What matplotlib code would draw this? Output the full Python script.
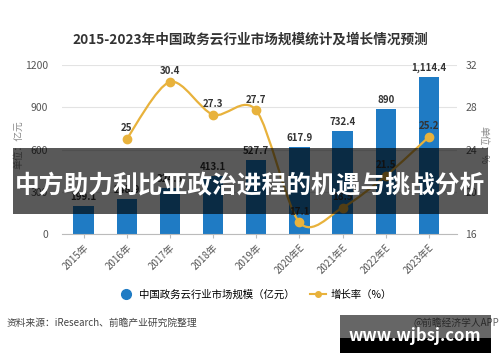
import matplotlib
matplotlib.use('Agg')
import matplotlib.pyplot as plt
from matplotlib.path import Path
from matplotlib.patches import PathPatch, Rectangle
from matplotlib.lines import Line2D
import numpy as np

plt.rcParams['font.family'] = ['Noto Sans CJK SC', 'DejaVu Sans']

# data
years = ['2015年', '2016年', '2017年', '2018年', '2019年', '2020年E', '2021年E', '2022年E', '2023年E']
market = [199.1, 248.9, 324.5, 413.1, 527.7, 617.9, 732.4, 890, 1114.4]
market_labels = ['199.1', '248.9', '324.5', '413.1', '527.7', '617.9', '732.4', '890', '1,114.4']
growth_years = [1, 2, 3, 4, 5, 6, 7, 8]
growth = [25, 30.4, 27.3, 27.7, 17.1, 18.5, 21.5, 25.2]

blue = '#1f7bc4'
gold = '#e8b23c'
txt = '#333333'

fig = plt.figure(figsize=(5, 3.62), dpi=100)
ax = fig.add_axes([0.124, 0.3536, 0.79, 0.4668])
ax2 = ax.twinx()

x = np.arange(len(years))
ax.bar(x, market, width=0.47, color=blue, zorder=2)
for xi, v, lab in zip(x, market, market_labels):
    ax.annotate(lab, (xi, v), xytext=(0, 3), textcoords='offset points',
                ha='center', va='bottom', fontsize=7, color=txt, fontweight='bold')

ax.set_xlim(-0.5, 8.65)
ax.set_ylim(0, 1200)
ax.set_yticks([0, 300, 600, 900, 1200])
ax.grid(axis='y', color='#e3e3e3', linewidth=0.8, zorder=0)
ax.set_axisbelow(True)
for s in ['top', 'left', 'right']:
    ax.spines[s].set_visible(False)
    ax2.spines[s].set_visible(False)
ax2.spines['bottom'].set_visible(False)
ax.spines['bottom'].set_color('#bbbbbb')
ax.set_xticks(x)
ax.set_xticklabels(years, rotation=45, ha='right', rotation_mode='anchor', fontsize=7, color='#555555')
ax.tick_params(axis='x', length=3, color='#bbbbbb', pad=3)
ax.tick_params(axis='y', length=0, labelsize=7.5, labelcolor='#555555', pad=10)

ax2.set_ylim(16, 32)
ax2.set_yticks([16, 20, 24, 28, 32])
ax2.tick_params(axis='y', length=0, labelsize=7.5, labelcolor='#555555', pad=6)

# smooth growth line (Catmull-Rom drawn as cubic Bezier path)
pts = np.column_stack([growth_years, growth]).astype(float)
verts = [tuple(pts[0])]
codes = [Path.MOVETO]
t = 0.3
for i in range(len(pts) - 1):
    p0 = pts[i - 1] if i > 0 else pts[i]
    p1, p2 = pts[i], pts[i + 1]
    p3 = pts[i + 2] if i + 2 < len(pts) else pts[i + 1]
    c1 = p1 + (p2 - p0) * t * 0.5
    c2 = p2 - (p3 - p1) * t * 0.5
    verts += [tuple(c1), tuple(c2), tuple(p2)]
    codes += [Path.CURVE4] * 3
ax2.add_patch(PathPatch(Path(verts, codes), facecolor='none', edgecolor=gold, lw=1.6, zorder=3))
ax2.plot(growth_years, growth, 'o', color=gold, ms=6, zorder=4)
for xi, v in zip(growth_years, growth):
    ax2.annotate(f'{v:g}', (xi, v), xytext=(0, 4), textcoords='offset points',
                 ha='center', va='bottom', fontsize=7, color=txt, fontweight='bold')

fig.text(0.036, 0.60, '单位：亿元', rotation=90, fontsize=7, color='#888888', va='center', ha='center')
fig.text(0.966, 0.60, '单位：%', rotation=-90, fontsize=7, color='#888888', va='center', ha='center')

fig.text(0.5, 0.89, '2015-2023年中国政务云行业市场规模统计及增长情况预测',
         ha='center', va='center', fontsize=9.8, fontweight='bold', color=txt)

handles = [Line2D([], [], marker='o', ls='none', color=blue, ms=7),
           Line2D([], [], marker='o', color=gold, ms=4, lw=1.5)]
fig.legend(handles, ['中国政务云行业市场规模（亿元）', '增长率（%）'], loc='center',
           bbox_to_anchor=(0.51, 0.185), ncol=2, frameon=False, fontsize=7.5,
           handlelength=1.5, columnspacing=1.5, handletextpad=0.5)

fig.text(0.014, 0.108, '资料来源：iResearch、前瞻产业研究院整理', fontsize=7, color='#444444', va='center')
fig.text(0.998, 0.108, '@前瞻经济学人APP', fontsize=7, color='#666666', va='center', ha='right')

# overlay banner and watermark
fig.patches.append(Rectangle((0.026, 1 - 214 / 362), 0.95, 66 / 362, transform=fig.transFigure,
                             facecolor='black', alpha=0.65, zorder=10))
fig.text(0.5, 1 - 186 / 362, '中方助力利比亚政治进程的机遇与挑战分析', ha='center', va='center',
         fontsize=17.8, fontweight='bold', color='white', zorder=11)
fig.patches.append(Rectangle((0.68, 1 - 338 / 362), 0.302, 23 / 362, transform=fig.transFigure,
                             facecolor='black', alpha=0.6, zorder=10))
fig.patches.append(Rectangle((0.68, 1 - 353 / 362), 0.302, 15 / 362, transform=fig.transFigure,
                             facecolor='black', zorder=10))
fig.text(0.83, 1 - 336 / 362, 'www.wjbsj.com', ha='center', va='center',
         fontsize=12, fontweight='bold', color='white', zorder=11)

fig.savefig('out.png', dpi=100)
